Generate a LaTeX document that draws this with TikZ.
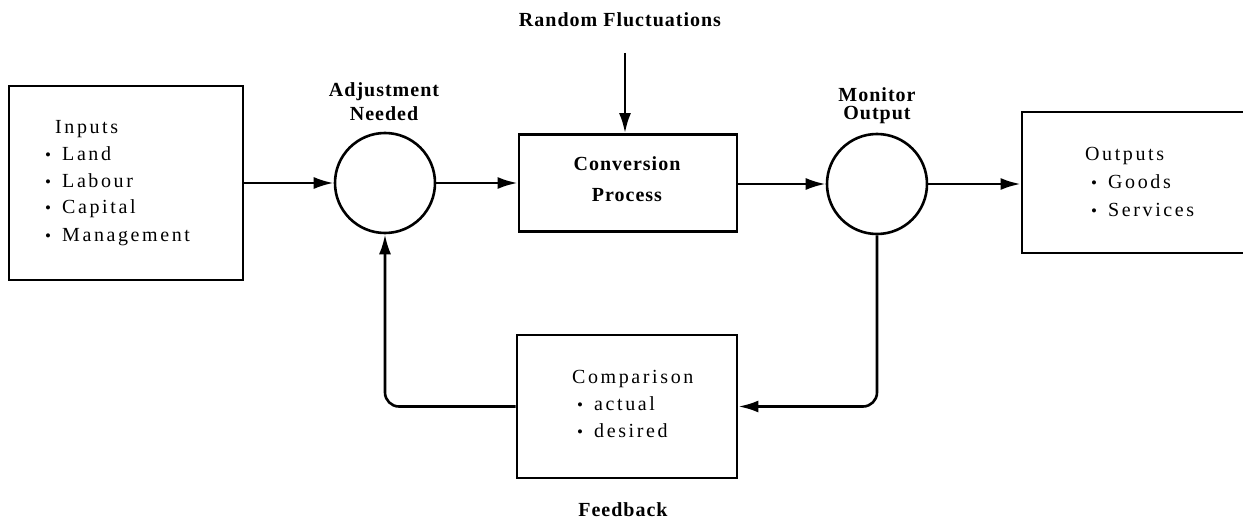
\documentclass[tikz,border=0pt]{standalone}
\usepackage{fontspec}
\setmainfont{Liberation Serif}
\newfontfamily\spc[LetterSpace=13]{Liberation Serif}
\newfontfamily\bspc[LetterSpace=5]{Liberation Serif Bold}
\usetikzlibrary{arrows.meta}
\begin{document}
\begin{tikzpicture}[x=1pt,y=-1pt,
  boxnode/.style={draw, line width=2.8pt, inner sep=0pt, rectangle},
  circnode/.style={draw, circle, line width=2.6pt, minimum size=100pt, inner sep=0pt},
  conn/.style={line width=2.6pt, -{Latex[length=20pt,width=12pt]}},
  feed/.style={line width=2.6pt, rounded corners=14pt, -{Latex[length=20pt,width=12pt]}},
  lbl/.style={font=\bspc\fontsize{20}{23}\selectfont, inner sep=0pt},
  txt/.style={font=\spc\fontsize{20}{24}\selectfont, inner sep=0pt, anchor=base west},
  bul/.style={font=\fontsize{17}{17}\selectfont, inner sep=0pt, anchor=base west}
]
\useasboundingbox (0,0) rectangle (1243,524);
\clip (0,0) rectangle (1243,524);

% boxes and circles
\node[boxnode, minimum width=234pt, minimum height=194pt] (inputs) at (126,183) {};
\node[circnode] (c1) at (385,183) {};
\node[boxnode, minimum width=218pt, minimum height=97pt] (conv) at (628,183) {};
\node[circnode] (c2) at (877,184) {};
\node[boxnode, minimum width=232pt, minimum height=141pt] (outputs) at (1138,182.5) {};
\node[boxnode, minimum width=220pt, minimum height=143pt] (comp) at (627,406.5) {};

% labels
\node[lbl] (rf) at (620,20) {Random Fluctuations};
\coordinate (rfstart) at (625,53);
\node[lbl] (adj1) at (384,92) {Adjustment};
\node[lbl] (adj2) at (384,114) {Needed};
\node[lbl] (mon1) at (877,95) {Monitor};
\node[lbl] (mon2) at (877,115) {Output};
\node[lbl] (conv1) at (627,164) {Conversion};
\node[lbl] (conv2) at (627,195) {Process};
\node[lbl] (fb) at (623,510) {Feedback};

% inputs text
\node[txt] (in0) at (55,134) {Inputs};
\node[bul] (inb1) at (45,161) {\textbullet};
\node[txt] (in1) at (62,161) {Land};
\node[bul] (inb2) at (45,188) {\textbullet};
\node[txt] (in2) at (62,188) {Labour};
\node[bul] (inb3) at (45,214) {\textbullet};
\node[txt] (in3) at (62,214) {Capital};
\node[bul] (inb4) at (45,241) {\textbullet};
\node[txt] (in4) at (62,241) {Management};

% outputs text
\node[txt] (out0) at (1085,161) {Outputs};
\node[bul] (outb1) at (1091,189) {\textbullet};
\node[txt] (out1) at (1108,189) {Goods};
\node[bul] (outb2) at (1091,216) {\textbullet};
\node[txt] (out2) at (1108,216) {Services};

% comparison text
\node[txt] (cmp0) at (572,383) {Comparison};
\node[bul] (cmpb1) at (577,410) {\textbullet};
\node[txt] (cmp1) at (594,410) {actual};
\node[bul] (cmpb2) at (577,437) {\textbullet};
\node[txt] (cmp2) at (594,437) {desired};

% connectors
\draw[conn] (inputs.east |- c1.west) -- (c1.west);
\draw[conn] (c1.east) -- (conv.west |- c1.east);
\draw[conn] (conv.east |- c2.west) -- (c2.west);
\draw[conn] (c2.east) -- (outputs.west |- c2.east);
\draw[conn] (rfstart) -- (rfstart |- conv.north);
\draw[feed] (c2.south) -- (c2.south |- comp.east) -- (comp.east);
\draw[feed] (comp.west) -- (c1.south |- comp.west) -- (c1.south);
\end{tikzpicture}
\end{document}
